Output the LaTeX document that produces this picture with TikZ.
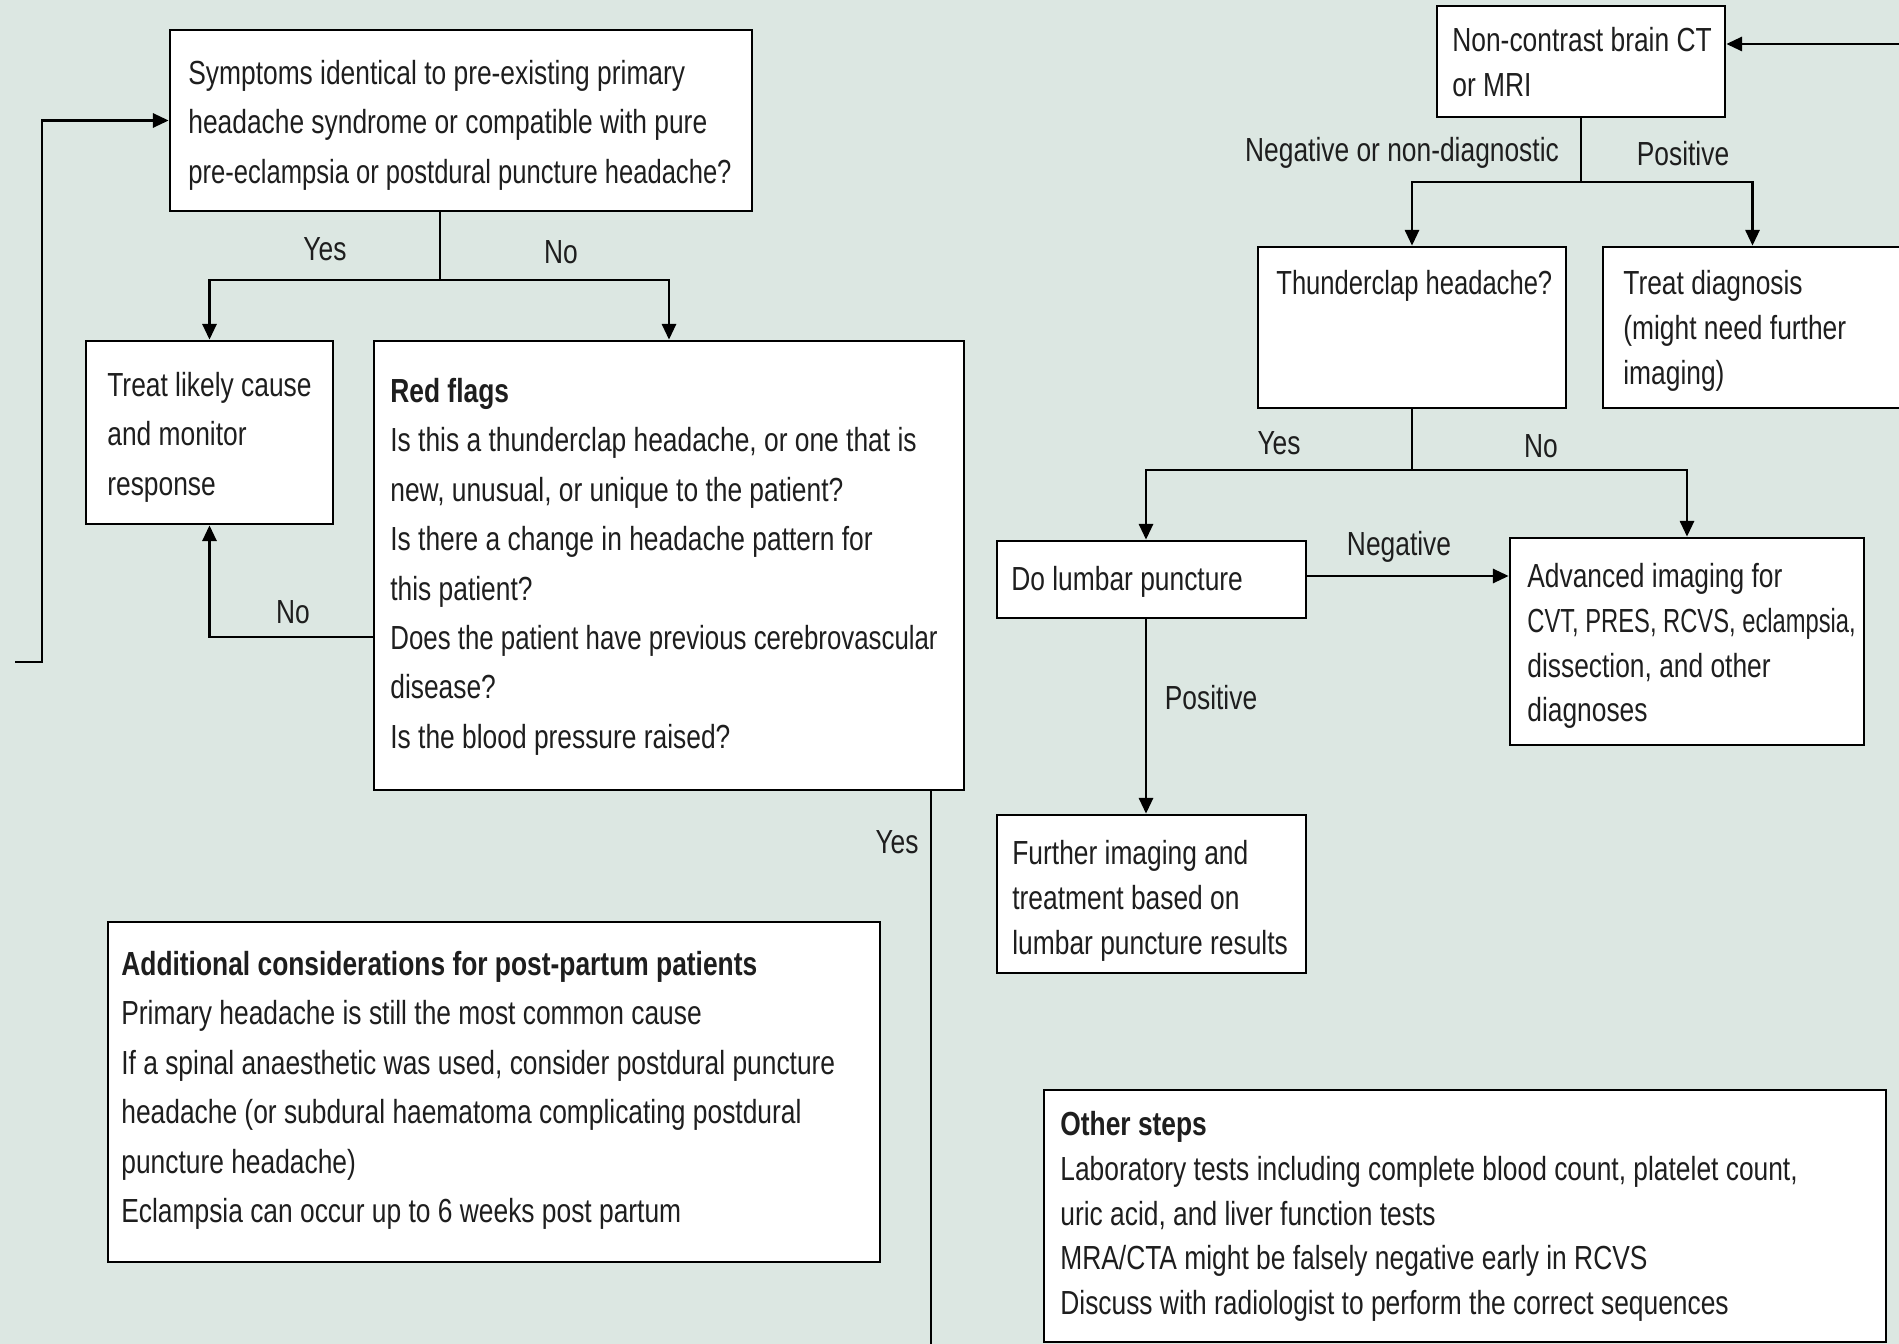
\documentclass[tikz,border=0pt]{standalone}
\usepackage{fontspec}
\setmainfont[FakeStretch=0.79]{Liberation Sans}
\usetikzlibrary{arrows.meta,fit}
\definecolor{bg}{RGB}{220,231,226}
\definecolor{ink}{RGB}{30,30,30}
\begin{document}
\begin{tikzpicture}[x=0.02cm,y=-0.02cm,
  box/.style={draw=black,fill=white,line width=1.5pt,inner sep=0pt},
  txt/.style={anchor=north west,inner sep=0pt,align=left,text=ink,font=\fontsize{19}{28.1}\selectfont},
  txtr/.style={txt,font=\fontsize{19}{25.5}\selectfont},
  lbl/.style={inner sep=0pt,text=ink,font=\fontsize{19}{25.5}\selectfont},
  ln/.style={draw=black,line width=1.6pt},
  arr/.style={ln,-{Triangle[length=9pt,width=8pt]}}]
\clip (0,0) rectangle (1899,1344);
\fill[bg] (0,0) rectangle (1899,1344);
% boxes
\node[box,fit={(170,30) (752,211)}] (b1) {};
\node[box,fit={(86,341) (333,524)}] (b2) {};
\node[box,fit={(374,341) (964,790)}] (b3) {};
\node[box,fit={(108,922) (880,1262)}] (b4) {};
\node[box,fit={(1437,6) (1725,117)}] (b5) {};
\node[box,fit={(1258,247) (1566,408)}] (b6) {};
\node[box,fit={(1603,247) (1902,408)}] (b7) {};
\node[box,fit={(997,541) (1306,618)}] (b8) {};
\node[box,fit={(1510,538) (1864,745)}] (b9) {};
\node[box,fit={(997,815) (1306,973)}] (b10) {};
\node[box,fit={(1044,1090) (1886,1342)}] (b11) {};
% texts
\node[txt] (t1) at (188,60) {Symptoms identical to pre-existing primary\\headache syndrome or compatible with pure\\\scalebox{0.97}[1]{pre-eclampsia or postdural puncture headache?}};
\node[txt] (t2) at (107,372) {Treat likely cause\\and monitor\\response};
\node[txt] (t3) at (390,378) {\textbf{Red flags}\\Is this a thunderclap headache, or one that is\\new, unusual, or unique to the patient?\\Is there a change in headache pattern for\\this patient?\\\scalebox{0.98}[1]{Does the patient have previous cerebrovascular}\\disease?\\Is the blood pressure raised?};
\node[txt] (t4) at (121,951) {\textbf{Additional considerations for post-partum patients}\\Primary headache is still the most common cause\\If a spinal anaesthetic was used, consider postdural puncture\\headache (or subdural haematoma complicating postdural\\puncture headache)\\Eclampsia can occur up to 6 weeks post partum};
\node[txtr] (t5) at (1452,27) {Non-contrast brain CT\\or MRI};
\node[txtr] (t6) at (1276,270) {\scalebox{0.97}[1]{Thunderclap headache?}};
\node[txtr] (t7) at (1623,270) {Treat diagnosis\\(might need further\\imaging)};
\node[txtr] (t8) at (1011,566) {Do lumbar puncture};
\node[txtr] (t9) at (1527,563) {Advanced imaging for\\\scalebox{0.9}[1]{CVT, PRES, RCVS, eclampsia,}\\dissection, and other\\diagnoses};
\node[txtr] (t10) at (1012,840) {Further imaging and\\treatment based on\\lumbar puncture results};
\node[txtr] (t11) at (1060,1111) {\textbf{Other steps}\\Laboratory tests including complete blood count, platelet count,\\uric acid, and liver function tests\\MRA/CTA might be falsely negative early in RCVS\\Discuss with radiologist to perform the correct sequences};
% labels
\node[lbl] (l1) at (325,249) {Yes};
\node[lbl] (l2) at (561,252) {No};
\node[lbl] (l3) at (293,612) {No};
\node[lbl] (l4) at (897,842) {Yes};
\node[lbl] (l5) at (1402,153) {Negative or non-diagnostic};
\node[lbl] (l6) at (1683,154) {Positive};
\node[lbl] (l7) at (1279,443) {Yes};
\node[lbl] (l8) at (1541,446) {No};
\node[lbl] (l9) at (1399,547) {Negative};
\node[lbl] (l10) at (1211,698) {Positive};
% coordinates
\coordinate (s1) at (440,280);
\coordinate (lstart) at (15,662);
\coordinate (lc) at (42,662);
\coordinate (ynof) at (0,637);
\coordinate (yb) at (931,1350);
\coordinate (rin) at (1905,44);
\coordinate (s2) at (1581,182);
\coordinate (s3) at (1412,470);
\coordinate (lpx) at (1146,0);
\coordinate (yneg) at (0,576);
% connectors
\draw[ln] (b1.south -| s1) -- (s1);
\draw[arr] (s1) -| (b2.north);
\draw[arr] (s1) -| (b3.north);
\draw[arr] (lstart) -- (lc) |- (b1.west);
\draw[arr] (b3.west |- ynof) -| (b2.south);
\draw[ln] (b3.south -| yb) -- (yb);
\draw[arr] (rin) -- (b5.east |- rin);
\draw[ln] (b5.south) -- (b5.south |- s2);
\draw[arr] (b5.south |- s2) -| (b6.north);
\draw[arr] (b5.south |- s2) -| (b7.north);
\draw[ln] (b6.south) -- (b6.south |- s3);
\draw[arr] (b6.south |- s3) -| (b8.north -| lpx);
\draw[arr] (b6.south |- s3) -| (b9.north);
\draw[arr] (b8.east |- yneg) -- (b9.west |- yneg);
\draw[arr] (b8.south -| lpx) -- (b10.north -| lpx);
\end{tikzpicture}
\end{document}
